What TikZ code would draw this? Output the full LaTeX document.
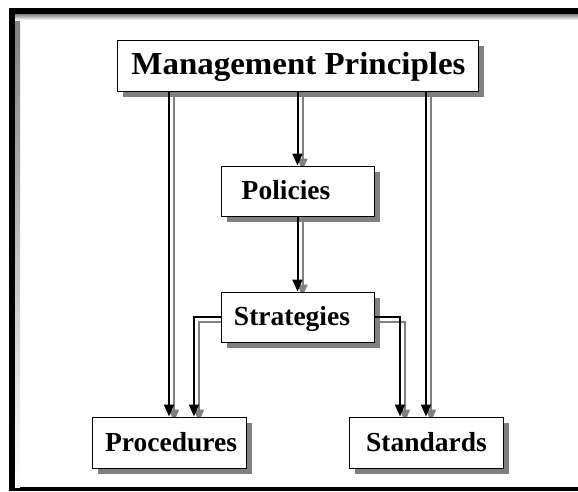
\documentclass[tikz,border=0pt]{standalone}
\usepackage{fontspec}
\setmainfont{Liberation Serif}
\usepackage{graphicx}
\usetikzlibrary{arrows.meta,shadows}
\definecolor{shade}{RGB}{128,128,128}
\pgfdeclarelayer{framelayer}
\pgfdeclarelayer{bg}
\pgfsetlayers{framelayer,bg,main}
\begin{document}
\begin{tikzpicture}[x=1pt,y=-1pt,
  box/.style={draw=black, line width=1pt, fill=white, inner sep=0pt,
    text height=17pt, text depth=0pt,
    font=\fontsize{27.5}{30}\selectfont\bfseries,
    drop shadow={shadow xshift=5.5pt, shadow yshift=-5.5pt, fill=shade, opacity=1, draw=none}},
  link/.style={line width=2pt, draw=black, -{Triangle[length=12pt,width=10pt,fill=black]}},
  linkshadow/.style={line width=2pt, draw=shade, -{Triangle[length=12pt,width=10pt,fill=shade]},
    transform canvas={xshift=5pt,yshift=-5pt}}]
\useasboundingbox (0,0) rectangle (578,491);
% frame
\begin{pgfonlayer}{framelayer}
\fill[black] (9,8) rectangle (578,491);
\fill[white] (15,14) rectangle (578,487);
\fill[shade] (15,14) rectangle (20,487);
\fill[shade] (15,14) rectangle (578,20);
\end{pgfonlayer}
% boxes
\node[box, minimum width=361pt, minimum height=51pt] (mp) at (297.5,65.5)
  {\hspace*{2pt}\scalebox{1.03}[1]{\fontsize{32}{34}\selectfont Management Principles}};
\node[box, minimum width=153pt, minimum height=50pt] (pol) at (297.5,191) {\hspace*{-23pt}Policies};
\node[box, minimum width=153pt, minimum height=50pt] (str) at (297.5,317) {\hspace*{-11pt}Strategies};
\node[box, minimum width=154pt, minimum height=51pt] (pro) at (169,442.5) {\hspace*{4pt}Procedures};
\node[box, minimum width=154pt, minimum height=51pt] (sta) at (426,442.5) {\hspace*{1pt}Standards};
% connector shadows
\begin{pgfonlayer}{bg}
\draw[linkshadow] (mp.south) -- (pol.north);
\draw[linkshadow] (mp.south -| pro.north) -- (pro.north);
\draw[linkshadow] (mp.south -| sta.north) -- (sta.north);
\draw[linkshadow] (pol.south) -- (str.north);
\draw[linkshadow] (str.west) -| ([xshift=25pt]pro.north);
\draw[linkshadow] (str.east) -| ([xshift=-26pt]sta.north);
\end{pgfonlayer}
% connectors
\draw[link] (mp.south) -- (pol.north);
\draw[link] (mp.south -| pro.north) -- (pro.north);
\draw[link] (mp.south -| sta.north) -- (sta.north);
\draw[link] (pol.south) -- (str.north);
\draw[link] (str.west) -| ([xshift=25pt]pro.north);
\draw[link] (str.east) -| ([xshift=-26pt]sta.north);
\end{tikzpicture}
\end{document}
